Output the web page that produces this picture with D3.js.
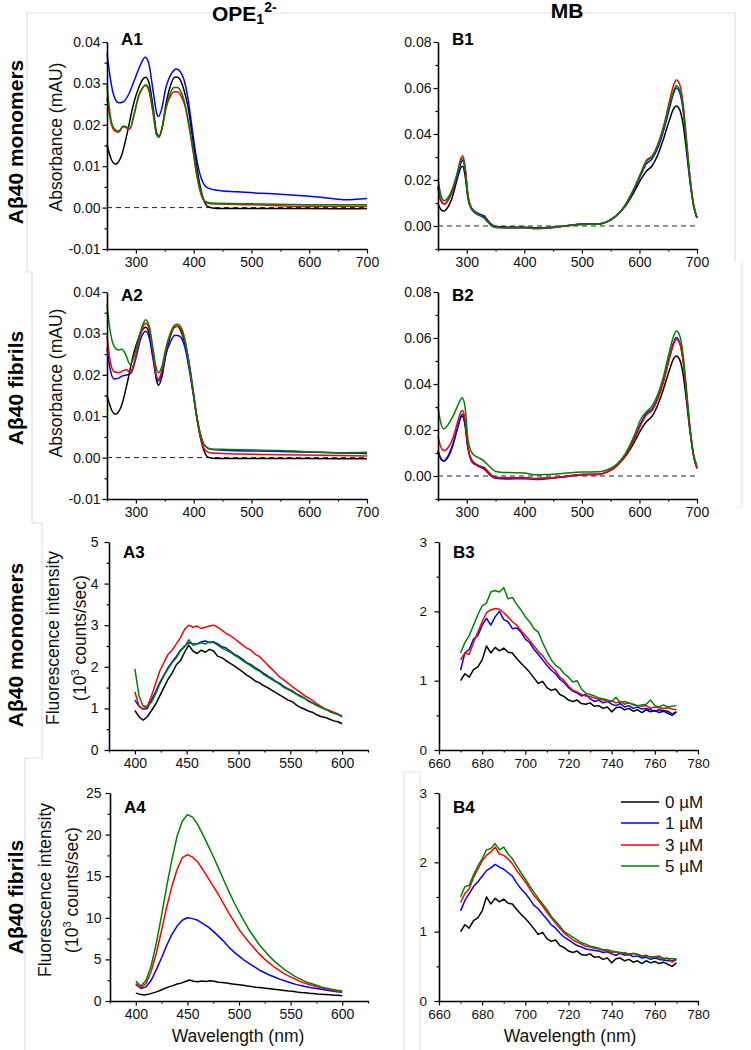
<!DOCTYPE html>
<html>
<head>
<meta charset="utf-8">
<script src="https://cdn.jsdelivr.net/npm/d3@7"></script>
<style>
body { margin: 0; background: #fff; }
svg { display: block; font-family: "Liberation Sans", Arial, sans-serif; }
</style>
</head>
<body>
<svg id="fig" width="751" height="1050"></svg>
<script>
// ---- series colours / legend
const colors = ["#000000", "#0000ff", "#ff0000", "#008000"]
const concLabels = ["0 µM", "1 µM", "3 µM", "5 µM"]

// ---- A1 : OPE absorbance, monomers  [wavelength, absorbance]
const a1_0 = [[250,0.0152],[258,0.0115],[265,0.0105],[275,0.0125],[285,0.018],[295,0.0245],[305,0.029],[312,0.031],[317,0.0315],[323,0.030],[330,0.024],[336,0.018],[340,0.0172],[345,0.019],[352,0.025],[360,0.0295],[367,0.0315],[372,0.0315],[378,0.0305],[384,0.028],[390,0.0245],[397,0.018],[403,0.012],[410,0.006],[417,0.002],[425,0.0002],[440,-0.0002],[550,-0.0002],[650,-0.0003],[700,-0.0002]]
const a1_1 = [[250,0.0373],[256,0.031],[262,0.027],[270,0.0253],[278,0.0255],[288,0.0275],[298,0.031],[308,0.0345],[316,0.0363],[322,0.035],[330,0.028],[336,0.0228],[339,0.022],[344,0.0235],[352,0.029],[362,0.0325],[370,0.0335],[376,0.033],[383,0.031],[390,0.0265],[397,0.0195],[403,0.0135],[410,0.0085],[417,0.0058],[425,0.0047],[440,0.0042],[475,0.0038],[550,0.0032],[620,0.0025],[660,0.0019],[700,0.0022]]
const a1_3 = [[250,0.0265],[256,0.021],[262,0.0187],[270,0.0182],[278,0.0195],[284,0.0192],[290,0.019],[296,0.022],[305,0.027],[312,0.029],[317,0.0295],[323,0.028],[330,0.0225],[336,0.0175],[340,0.017],[345,0.019],[352,0.024],[360,0.027],[366,0.028],[372,0.028],[378,0.027],[385,0.0245],[392,0.0195],[399,0.0135],[405,0.008],[412,0.0035],[420,0.0013],[430,0.0009],[500,0.0007],[600,0.0003],[700,0.0003]]
const a1_5 = [[250,0.0295],[256,0.022],[262,0.0192],[270,0.0185],[278,0.0197],[284,0.0195],[290,0.0192],[296,0.022],[305,0.027],[312,0.029],[317,0.0297],[323,0.0285],[330,0.023],[336,0.0175],[340,0.017],[345,0.019],[352,0.024],[360,0.0278],[366,0.029],[372,0.029],[378,0.028],[385,0.025],[392,0.02],[399,0.014],[405,0.0085],[412,0.004],[420,0.0015],[430,0.0011],[500,0.0009],[600,0.0007],[700,0.0007]]

// ---- A2 : OPE absorbance, fibrils
const a2_0 = [[250,0.015],[258,0.0115],[265,0.0105],[275,0.0125],[285,0.018],[295,0.0245],[305,0.029],[312,0.031],[317,0.0315],[323,0.030],[330,0.0245],[336,0.0185],[339,0.0175],[345,0.0195],[352,0.025],[360,0.0295],[367,0.0315],[372,0.0317],[378,0.0305],[384,0.028],[390,0.0245],[397,0.018],[403,0.012],[410,0.006],[417,0.002],[425,0.0001],[440,-0.0002],[550,-0.0002],[650,-0.0003],[700,-0.0003]]
const a2_1 = [[250,0.0265],[256,0.021],[262,0.019],[270,0.0192],[278,0.0198],[286,0.020],[292,0.0205],[300,0.024],[308,0.0285],[317,0.0305],[323,0.029],[330,0.0235],[336,0.019],[339,0.0185],[345,0.0205],[352,0.025],[360,0.028],[367,0.0295],[372,0.0295],[378,0.029],[385,0.0265],[392,0.0215],[399,0.0155],[405,0.010],[412,0.0055],[420,0.0028],[430,0.002],[450,0.0018],[550,0.0015],[650,0.0011],[700,0.001]]
const a2_3 = [[250,0.0295],[256,0.023],[262,0.0208],[270,0.0205],[278,0.021],[284,0.0212],[290,0.0205],[298,0.0235],[307,0.029],[317,0.0325],[323,0.031],[330,0.025],[336,0.0195],[339,0.019],[345,0.021],[352,0.026],[360,0.0298],[367,0.0315],[372,0.0317],[378,0.031],[385,0.028],[392,0.0225],[399,0.016],[405,0.010],[412,0.0048],[420,0.0018],[430,0.0011],[450,0.001],[550,0.0007],[650,0.0005],[700,0.0004]]
const a2_5 = [[250,0.037],[255,0.031],[262,0.027],[270,0.026],[276,0.0262],[282,0.025],[290,0.0225],[297,0.0245],[306,0.0295],[313,0.0325],[317,0.0333],[323,0.0318],[330,0.026],[336,0.0212],[339,0.0205],[345,0.022],[352,0.0265],[360,0.0302],[367,0.032],[372,0.0322],[378,0.0315],[385,0.0285],[392,0.023],[399,0.0165],[405,0.0105],[412,0.0055],[420,0.0028],[430,0.0021],[450,0.002],[550,0.0017],[650,0.0012],[700,0.0013]]

// ---- B1 : MB absorbance, monomers
const b1_0 = [[250,0.0095],[255,0.0072],[260,0.0065],[268,0.0085],[276,0.0135],[284,0.021],[290,0.0255],[293,0.026],[297,0.022],[302,0.012],[308,0.0075],[316,0.0055],[324,0.0045],[330,0.004],[336,0.0025],[342,0.0008],[350,-0.0002],[370,-0.0005],[400,-0.0005],[420,-0.0009],[440,-0.0007],[470,0.0],[500,0.0008],[530,0.0009],[545,0.002],[560,0.0045],[575,0.0085],[590,0.0145],[603,0.0205],[612,0.0238],[622,0.0262],[632,0.031],[642,0.038],[652,0.046],[659,0.0508],[664,0.0522],[670,0.0505],[676,0.044],[682,0.032],[688,0.019],[694,0.009],[700,0.0035]]
const b1_1 = [[250,0.0165],[255,0.011],[261,0.0095],[268,0.0115],[276,0.0155],[284,0.022],[290,0.0275],[293,0.0285],[297,0.025],[302,0.0135],[308,0.008],[316,0.006],[324,0.005],[330,0.0045],[336,0.0025],[342,0.0008],[350,-0.0003],[370,-0.0006],[400,-0.0006],[420,-0.001],[440,-0.0008],[470,0.0],[500,0.0009],[530,0.001],[545,0.002],[560,0.0045],[575,0.0088],[590,0.0155],[603,0.0225],[612,0.027],[622,0.0292],[632,0.034],[642,0.0415],[652,0.051],[659,0.0575],[664,0.060],[670,0.058],[676,0.050],[682,0.035],[688,0.020],[694,0.009],[700,0.0035]]
const b1_3 = [[250,0.0175],[255,0.0115],[261,0.0095],[268,0.0115],[276,0.016],[284,0.0235],[290,0.0295],[293,0.0305],[297,0.026],[302,0.0135],[308,0.0075],[316,0.0055],[324,0.0045],[330,0.0035],[336,0.002],[342,0.0005],[350,-0.0005],[370,-0.0008],[400,-0.0008],[420,-0.0012],[440,-0.001],[470,0.0],[500,0.0007],[530,0.0008],[545,0.002],[560,0.0045],[575,0.009],[590,0.016],[603,0.0235],[612,0.0285],[622,0.0305],[632,0.0355],[642,0.0435],[652,0.054],[659,0.061],[664,0.0635],[670,0.0615],[676,0.053],[682,0.037],[688,0.021],[694,0.0095],[700,0.0035]]
const b1_5 = [[250,0.0205],[255,0.0135],[261,0.011],[268,0.0125],[276,0.017],[284,0.0235],[290,0.0285],[293,0.0295],[297,0.025],[302,0.013],[308,0.0075],[316,0.0055],[324,0.0043],[330,0.0035],[336,0.0018],[342,0.0003],[350,-0.0007],[370,-0.0009],[400,-0.0008],[420,-0.0011],[440,-0.0009],[470,0.0],[500,0.0007],[530,0.0008],[545,0.002],[560,0.0045],[575,0.009],[590,0.016],[603,0.0232],[612,0.028],[622,0.030],[632,0.035],[642,0.0425],[652,0.0525],[659,0.0585],[664,0.061],[670,0.059],[676,0.051],[682,0.0355],[688,0.0205],[694,0.0093],[700,0.0035]]

// ---- B2 : MB absorbance, fibrils
const b2_0 = [[250,0.011],[255,0.0075],[260,0.0065],[268,0.0085],[276,0.0135],[284,0.021],[290,0.0255],[293,0.026],[297,0.022],[302,0.012],[308,0.0072],[316,0.0052],[324,0.0042],[330,0.0037],[336,0.0022],[342,0.0005],[350,-0.0005],[370,-0.0008],[400,-0.0008],[420,-0.0011],[440,-0.0009],[470,-0.0002],[500,0.0006],[530,0.0008],[545,0.0019],[560,0.0043],[575,0.0083],[590,0.0142],[603,0.0203],[612,0.0236],[622,0.026],[632,0.031],[642,0.038],[652,0.046],[659,0.0508],[664,0.0522],[670,0.0505],[676,0.044],[682,0.032],[688,0.019],[694,0.009],[700,0.0035]]
const b2_1 = [[250,0.011],[255,0.0075],[260,0.0065],[268,0.009],[276,0.014],[284,0.021],[290,0.026],[293,0.027],[297,0.023],[302,0.0125],[308,0.0065],[316,0.0048],[324,0.0038],[330,0.003],[336,0.0015],[342,0.0],[350,-0.001],[370,-0.0013],[400,-0.0012],[420,-0.0015],[440,-0.0012],[470,-0.0004],[500,0.0005],[530,0.0007],[545,0.0018],[560,0.0043],[575,0.0088],[590,0.0158],[603,0.0232],[612,0.0272],[622,0.0292],[632,0.034],[642,0.0418],[652,0.0515],[659,0.0578],[664,0.0602],[670,0.058],[676,0.050],[682,0.035],[688,0.020],[694,0.009],[700,0.0033]]
const b2_3 = [[250,0.0175],[255,0.0125],[261,0.011],[268,0.0125],[276,0.0165],[284,0.0235],[290,0.028],[293,0.0285],[297,0.0245],[302,0.013],[308,0.007],[316,0.005],[324,0.0042],[330,0.0035],[336,0.0018],[342,0.0003],[350,-0.0006],[370,-0.0009],[400,-0.0009],[420,-0.0012],[440,-0.001],[470,-0.0002],[500,0.0007],[530,0.0008],[545,0.0019],[560,0.0044],[575,0.0086],[590,0.0152],[603,0.0225],[612,0.0265],[622,0.0285],[632,0.0335],[642,0.041],[652,0.051],[659,0.057],[664,0.0595],[670,0.0575],[676,0.0495],[682,0.035],[688,0.020],[694,0.009],[700,0.0033]]
const b2_5 = [[250,0.030],[254,0.024],[260,0.0205],[268,0.0225],[276,0.026],[284,0.0305],[290,0.0335],[292,0.034],[297,0.030],[302,0.016],[308,0.0105],[316,0.0085],[324,0.0075],[330,0.0065],[340,0.004],[350,0.002],[370,0.0015],[400,0.0013],[420,0.0005],[440,0.0007],[470,0.0012],[500,0.0017],[530,0.0018],[545,0.0028],[560,0.005],[575,0.0095],[590,0.017],[603,0.025],[612,0.0278],[622,0.0305],[632,0.0355],[642,0.0435],[652,0.054],[659,0.0605],[664,0.063],[670,0.061],[676,0.0525],[682,0.037],[688,0.021],[694,0.0095],[700,0.0045]]

// ---- A3 / A4 : OPE fluorescence (10^3 counts/sec)
const a3Wl = d3.range(400, 601, 4)
const ope0 = [0.95,0.80,0.72,0.80,0.95,1.10,1.30,1.50,1.70,1.85,2.05,2.15,2.35,2.52,2.38,2.32,2.40,2.35,2.42,2.38,2.25,2.22,2.15,2.08,2.02,1.95,1.88,1.80,1.74,1.66,1.62,1.55,1.50,1.44,1.38,1.32,1.26,1.20,1.16,1.08,1.02,0.98,0.93,0.90,0.84,0.80,0.78,0.74,0.70,0.68,0.63]
const a3_1 = [1.20,1.05,0.98,1.00,1.20,1.40,1.62,1.80,1.98,2.12,2.25,2.40,2.50,2.58,2.55,2.55,2.60,2.62,2.58,2.60,2.55,2.48,2.45,2.38,2.30,2.25,2.18,2.10,2.05,1.98,1.92,1.85,1.78,1.72,1.65,1.60,1.52,1.47,1.42,1.35,1.30,1.24,1.18,1.12,1.08,1.02,0.98,0.94,0.90,0.86,0.80]
const a3_3 = [1.40,1.05,0.98,1.05,1.30,1.60,1.90,2.10,2.30,2.40,2.55,2.70,2.90,3.00,2.95,2.98,2.92,2.95,2.98,3.00,2.95,2.88,2.80,2.75,2.68,2.60,2.52,2.45,2.40,2.30,2.25,2.15,2.05,1.95,1.85,1.75,1.68,1.60,1.52,1.45,1.38,1.30,1.25,1.18,1.10,1.04,0.98,0.95,0.90,0.86,0.82]
const a3_5 = [1.95,1.30,1.05,1.05,1.15,1.35,1.58,1.78,1.95,2.10,2.22,2.38,2.48,2.65,2.52,2.55,2.58,2.55,2.60,2.58,2.52,2.45,2.40,2.35,2.28,2.22,2.15,2.08,2.02,1.95,1.90,1.82,1.76,1.70,1.64,1.58,1.50,1.45,1.40,1.34,1.28,1.24,1.16,1.12,1.06,1.02,0.98,0.92,0.88,0.85,0.80]

const a4Wl = d3.range(400, 601, 5)
const a4_1 = [2.0,1.5,1.7,2.5,3.8,5.2,6.7,8.0,9.0,9.7,10.0,9.9,9.7,9.3,8.9,8.4,7.8,7.2,6.5,5.9,5.4,4.9,4.5,4.1,3.7,3.4,3.1,2.85,2.6,2.4,2.2,2.0,1.85,1.72,1.6,1.5,1.4,1.3,1.2,1.12,1.05]
const a4_3 = [2.1,1.6,2.1,3.6,5.8,8.5,11.3,13.8,15.8,17.2,17.6,17.3,16.7,15.8,14.8,13.8,12.8,11.7,10.6,9.6,8.6,7.8,7.0,6.3,5.6,5.0,4.5,4.0,3.6,3.2,2.9,2.6,2.3,2.1,1.9,1.75,1.6,1.45,1.3,1.2,1.1]
const a4_5 = [2.4,1.8,2.5,4.3,7.0,10.3,13.8,17.0,19.8,21.6,22.4,22.1,21.2,20.0,18.7,17.4,16.0,14.6,13.2,11.9,10.7,9.6,8.5,7.6,6.7,6.0,5.3,4.7,4.2,3.7,3.3,2.9,2.6,2.3,2.1,1.9,1.7,1.55,1.4,1.3,1.2]

// ---- B3 / B4 : MB fluorescence
const bWl = d3.range(670, 771, 2)
const mb0 = [1.00,1.10,1.05,1.16,1.20,1.30,1.50,1.40,1.48,1.43,1.47,1.41,1.40,1.32,1.25,1.19,1.12,1.04,0.96,0.99,0.90,0.86,0.88,0.80,0.77,0.72,0.70,0.72,0.67,0.66,0.68,0.63,0.64,0.60,0.62,0.55,0.61,0.62,0.58,0.60,0.56,0.58,0.54,0.58,0.55,0.57,0.54,0.56,0.53,0.50,0.55]
const b3_1 = [1.15,1.40,1.45,1.60,1.65,1.80,1.90,1.80,1.92,2.00,1.88,1.85,1.75,1.76,1.70,1.60,1.55,1.45,1.38,1.30,1.22,1.15,1.10,1.02,0.97,0.90,0.85,0.82,0.78,0.80,0.74,0.70,0.72,0.68,0.70,0.66,0.64,0.67,0.62,0.64,0.60,0.62,0.59,0.60,0.58,0.56,0.58,0.57,0.56,0.52,0.55]
const b3_3 = [1.30,1.40,1.38,1.55,1.70,1.85,1.98,2.02,2.04,2.03,1.98,1.92,1.85,1.80,1.72,1.65,1.58,1.50,1.42,1.36,1.27,1.20,1.14,1.05,1.00,0.92,0.86,0.84,0.80,0.78,0.77,0.75,0.74,0.72,0.70,0.71,0.68,0.70,0.66,0.68,0.65,0.64,0.63,0.64,0.60,0.62,0.61,0.60,0.61,0.59,0.58]
const b3_5 = [1.40,1.55,1.65,1.80,1.95,2.08,2.12,2.28,2.30,2.28,2.34,2.18,2.20,2.10,2.02,1.92,1.85,1.75,1.70,1.55,1.42,1.30,1.22,1.18,1.10,1.05,0.98,1.00,0.88,0.82,0.80,0.78,0.75,0.74,0.72,0.70,0.76,0.68,0.70,0.68,0.66,0.64,0.65,0.66,0.72,0.64,0.62,0.65,0.62,0.63,0.64]
const b4_1 = [1.30,1.45,1.55,1.65,1.72,1.80,1.88,1.92,1.97,1.93,1.90,1.85,1.80,1.70,1.62,1.55,1.47,1.38,1.33,1.25,1.18,1.10,1.05,0.98,0.92,0.88,0.84,0.80,0.78,0.75,0.74,0.73,0.72,0.70,0.71,0.68,0.66,0.69,0.66,0.67,0.64,0.65,0.62,0.63,0.60,0.62,0.60,0.59,0.58,0.58,0.60]
const b4_3 = [1.42,1.55,1.62,1.78,1.90,2.02,2.10,2.15,2.22,2.12,2.10,2.05,1.98,1.88,1.80,1.72,1.62,1.52,1.45,1.37,1.28,1.20,1.12,1.05,0.98,0.93,0.88,0.85,0.82,0.79,0.78,0.76,0.75,0.73,0.72,0.70,0.71,0.68,0.70,0.66,0.69,0.67,0.65,0.66,0.63,0.64,0.65,0.60,0.62,0.56,0.60]
const b4_5 = [1.50,1.65,1.67,1.82,1.95,2.05,2.18,2.20,2.27,2.18,2.22,2.12,2.05,1.95,1.85,1.76,1.66,1.57,1.48,1.40,1.32,1.22,1.15,1.08,1.00,0.96,0.92,0.88,0.84,0.82,0.79,0.78,0.76,0.74,0.74,0.72,0.71,0.70,0.69,0.68,0.68,0.67,0.65,0.64,0.64,0.63,0.62,0.62,0.61,0.61,0.61]

// ---- ticks
const absTicksA = [-0.01, 0, 0.01, 0.02, 0.03, 0.04]
const absMinorA = [-0.005, 0.005, 0.015, 0.025, 0.035]
const absTicksB = [0, 0.02, 0.04, 0.06, 0.08]
const absMinorB = [-0.01, 0.01, 0.03, 0.05, 0.07]
const absXTicks = [300, 400, 500, 600, 700]
const absXMinor = [250, 350, 450, 550, 650]
const opeXTicks = [400, 450, 500, 550, 600]
const opeXMinor = [375, 425, 475, 525, 575, 625]
const mbXTicks = [660, 680, 700, 720, 740, 760, 780]
const mbXMinor = [670, 690, 710, 730, 750, 770]

const svg = d3.select("#fig")

// faint frame lines left over from the composed figure
const frames = [
	"M27,272V13H735V262", "M27,272H32V523", "M742,262V507H736",
	"M32,523H42V758", "M42,758H25V1050", "M404,772V1050", "M404,772H420V1050"
]
svg.selectAll(".frame").data(frames).enter().append("path").classed("frame", true)
	.attr("d", d => d).attr("fill", "none").attr("stroke", "#e2e2e2").attr("stroke-width", 1.2)

function panel(p) {
	let g = svg.append("g")
	let x = d3.scaleLinear().domain(p.xDomain).range([p.left, p.right])
	let y = d3.scaleLinear().domain(p.yDomain).range([p.bottom, p.top])

	// zero line
	if (p.zero) {
		g.append("line").attr("x1", x(250)).attr("x2", x(700)).attr("y1", y(0)).attr("y2", y(0))
			.attr("stroke", "#222").attr("stroke-width", 1).attr("stroke-dasharray", "5,4")
	}

	// curves
	let line = d3.line().x(d => x(d[0])).y(d => y(d[1])).curve(p.curve)
	p.series.forEach((s, i) => {
		g.append("path").datum(s).attr("d", line).attr("fill", "none")
			.attr("stroke", colors[i]).attr("stroke-width", 1.5).attr("stroke-linejoin", "round")
	})

	// axes
	let yMinor = g.append("g").attr("transform", `translate(${p.left},0)`)
		.call(d3.axisLeft(y).tickValues(p.yMinor).tickSize(2.5).tickFormat(""))
	yMinor.select(".domain").remove()
	let yAx = g.append("g").attr("transform", `translate(${p.left},0)`)
		.call(d3.axisLeft(y).tickValues(p.yTicks).tickSize(4.5).tickSizeOuter(0).tickPadding(p.yPad).tickFormat(p.yFmt))
	let xMinor = g.append("g").attr("transform", `translate(0,${p.bottom})`)
		.call(d3.axisBottom(x).tickValues(p.xMinor).tickSize(2.5).tickFormat(""))
	xMinor.select(".domain").remove()
	let xAx = g.append("g").attr("transform", `translate(0,${p.bottom})`)
		.call(d3.axisBottom(x).tickValues(p.xTicks).tickSize(4.5).tickSizeOuter(0).tickPadding(3.5))
	;[yMinor, yAx, xMinor, xAx].forEach(a => {
		a.selectAll("line").attr("stroke", "#000").attr("stroke-width", 1.2)
		a.select(".domain").attr("stroke", "#000").attr("stroke-width", 1.6)
		a.selectAll("text").attr("font-size", p.tickFont || 14).attr("fill", "#111").attr("font-family", "'Liberation Sans', Arial, sans-serif")
	})

	// panel tag
	g.append("text").attr("x", p.left + 14).attr("y", p.top + p.tagDy).text(p.tag)
		.attr("font-size", 17).attr("font-weight", "bold")
	return g
}

const colA = [107, 367], colB = [438, 697]
const colA2 = [109, 368], colB2 = [439, 698]
const rows = [[42, 249], [292, 499], [542, 750], [793, 1001]]
const fmt2 = d => d.toFixed(2)
const pairs = (wl, v) => d3.zip(wl, v)

panel({ left: colA[0], right: colA[1], top: rows[0][0], bottom: rows[0][1], xDomain: [250, 700], yDomain: [-0.01, 0.04],
	yTicks: absTicksA, yMinor: absMinorA, xTicks: absXTicks, xMinor: absXMinor, yFmt: fmt2, yPad: 2,
	series: [a1_0, a1_1, a1_3, a1_5], curve: d3.curveMonotoneX, zero: true, tag: "A1", tagDy: 3 })
panel({ left: colB[0], right: colB[1], top: rows[0][0], bottom: rows[0][1], xDomain: [250, 700], yDomain: [-0.01, 0.08],
	yTicks: absTicksB, yMinor: absMinorB, xTicks: absXTicks, xMinor: absXMinor, yFmt: fmt2, yPad: 2,
	series: [b1_0, b1_1, b1_3, b1_5], curve: d3.curveMonotoneX, zero: true, tag: "B1", tagDy: 3 })
panel({ left: colA[0], right: colA[1], top: rows[1][0], bottom: rows[1][1], xDomain: [250, 700], yDomain: [-0.01, 0.04],
	yTicks: absTicksA, yMinor: absMinorA, xTicks: absXTicks, xMinor: absXMinor, yFmt: fmt2, yPad: 2,
	series: [a2_0, a2_1, a2_3, a2_5], curve: d3.curveMonotoneX, zero: true, tag: "A2", tagDy: 9 })
panel({ left: colB[0], right: colB[1], top: rows[1][0], bottom: rows[1][1], xDomain: [250, 700], yDomain: [-0.01, 0.08],
	yTicks: absTicksB, yMinor: absMinorB, xTicks: absXTicks, xMinor: absXMinor, yFmt: fmt2, yPad: 2,
	series: [b2_0, b2_1, b2_3, b2_5], curve: d3.curveMonotoneX, zero: true, tag: "B2", tagDy: 9 })
panel({ left: colA2[0], right: colA2[1], top: rows[2][0], bottom: rows[2][1], xDomain: [375, 625], yDomain: [0, 5],
	yTicks: [0, 1, 2, 3, 4, 5], yMinor: [0.5, 1.5, 2.5, 3.5, 4.5], xTicks: opeXTicks, xMinor: opeXMinor, yFmt: d3.format("d"), yPad: 6,
	series: [pairs(a3Wl, ope0), pairs(a3Wl, a3_1), pairs(a3Wl, a3_3), pairs(a3Wl, a3_5)], curve: d3.curveLinear, tag: "A3", tagDy: 16 })
panel({ left: colB2[0], right: colB2[1], top: rows[2][0], bottom: rows[2][1], xDomain: [660, 780], yDomain: [0, 3],
	yTicks: [0, 1, 2, 3], yMinor: [0.5, 1.5, 2.5], xTicks: mbXTicks, xMinor: mbXMinor, yFmt: d3.format("d"), yPad: 7.5, tickFont: 13.5,
	series: [pairs(bWl, mb0), pairs(bWl, b3_1), pairs(bWl, b3_3), pairs(bWl, b3_5)], curve: d3.curveLinear, tag: "B3", tagDy: 16 })
panel({ left: colA2[0] + 1, right: colA2[1], top: rows[3][0], bottom: rows[3][1], xDomain: [375, 625], yDomain: [0, 25],
	yTicks: [0, 5, 10, 15, 20, 25], yMinor: [2.5, 7.5, 12.5, 17.5, 22.5], xTicks: opeXTicks, xMinor: opeXMinor, yFmt: d3.format("d"), yPad: 4,
	series: [pairs(a3Wl, ope0), pairs(a4Wl, a4_1), pairs(a4Wl, a4_3), pairs(a4Wl, a4_5)], curve: d3.curveLinear, tag: "A4", tagDy: 20 })
panel({ left: colB2[0], right: colB2[1], top: rows[3][0], bottom: rows[3][1], xDomain: [660, 780], yDomain: [0, 3],
	yTicks: [0, 1, 2, 3], yMinor: [0.5, 1.5, 2.5], xTicks: mbXTicks, xMinor: mbXMinor, yFmt: d3.format("d"), yPad: 7.5, tickFont: 13.5,
	series: [pairs(bWl, mb0), pairs(bWl, b4_1), pairs(bWl, b4_3), pairs(bWl, b4_5)], curve: d3.curveLinear, tag: "B4", tagDy: 20 })

// ---- rotated titles
function vtext(x, y, txt, size, weight) {
	return svg.append("text").attr("transform", `translate(${x},${y}) rotate(-90)`)
		.attr("text-anchor", "middle").attr("dy", "0.36em").attr("font-size", size)
		.attr("font-weight", weight || "normal").attr("fill", "#111").text(txt)
}
vtext(56, 137, "Absorbance (mAU)", 17.5)
vtext(56, 383, "Absorbance (mAU)", 17.5)
vtext(53, 638, "Fluorescence intensity", 17.5)
vtext(45, 890, "Fluorescence intensity", 17.5)
const sub3 = (x, y) => {
	let t = vtext(x, y, "", 17.5)
	t.append("tspan").text("(10")
	t.append("tspan").attr("font-size", 11).attr("dy", "-0.7em").text("3")
	t.append("tspan").attr("dy", "0.45em").text(" counts/sec)")
}
sub3(80, 638)
sub3(72, 890)

const rowLabels = ["Aβ40 monomers", "Aβ40 fibrils", "Aβ40 monomers", "Aβ40 fibrils"]
const rowCenters = [142, 388, 645, 897]
rowLabels.forEach((t, i) => vtext(15, rowCenters[i], t, 21, "bold").attr("fill", "#000"))

// ---- column headers
let ope = svg.append("text").attr("x", 212).attr("y", 21).attr("font-size", 21).attr("font-weight", "bold")
ope.append("tspan").text("OPE")
ope.append("tspan").attr("font-size", 14).attr("y", 24).text("1")
ope.append("tspan").attr("font-size", 14).attr("y", 12).text("2-")
svg.append("text").attr("x", 567).attr("y", 18).attr("text-anchor", "middle")
	.attr("font-size", 21).attr("font-weight", "bold").text("MB")

// ---- x titles
;[238, 570].forEach(cx => svg.append("text").attr("x", cx).attr("y", 1042).attr("text-anchor", "middle")
	.attr("font-size", 17.5).attr("fill", "#111").text("Wavelength (nm)"))

// ---- legend (B4)
const legY = [802, 823, 845, 866]
let leg = svg.append("g").selectAll("g").data(concLabels).enter().append("g")
	.attr("transform", (d, i) => `translate(621,${legY[i]})`)
leg.append("line").attr("x1", 0).attr("x2", 38).attr("stroke", (d, i) => colors[i]).attr("stroke-width", 1.6)
leg.append("text").attr("x", 44).attr("dy", "0.36em").attr("font-size", 17).attr("fill", "#111").text(d => d)
</script>
</body>
</html>
